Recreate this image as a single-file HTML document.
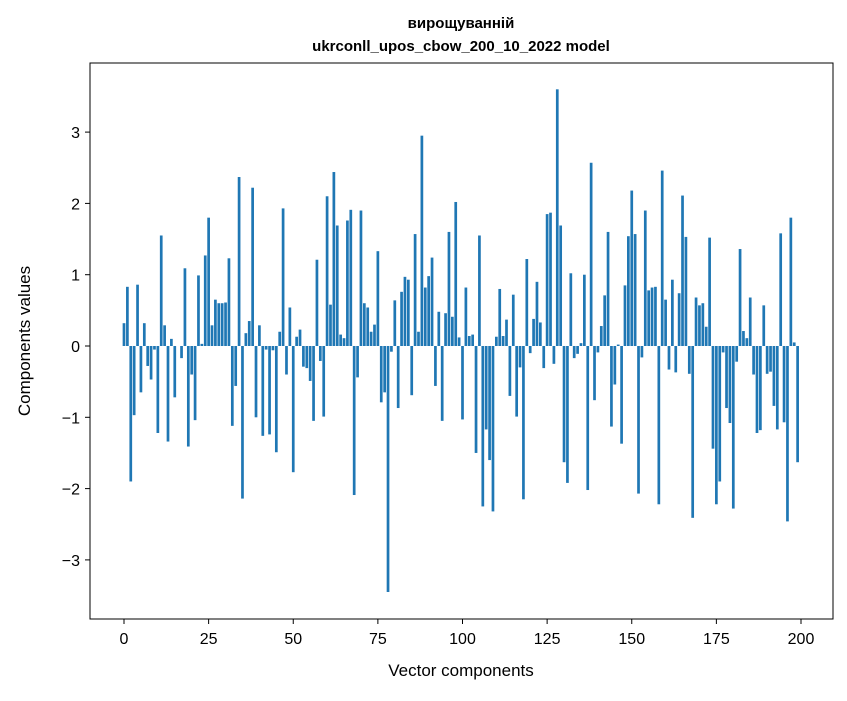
<!DOCTYPE html>
<html><head><meta charset="utf-8"><style>
body{margin:0;background:#fff;font-family:"Liberation Sans","DejaVu Sans",sans-serif;}
svg text{font-family:"Liberation Sans","DejaVu Sans",sans-serif;fill:#000;}
</style></head><body>
<svg id="chart" width="847" height="696">
<rect width="847" height="696" fill="#fff"/>
<text x="461" y="28" text-anchor="middle" font-size="15" font-weight="bold">вирощуванній</text>
<text x="461" y="51" text-anchor="middle" font-size="15" font-weight="bold">ukrconll_upos_cbow_200_10_2022 model</text>
<g id="bars"></g>
<rect x="90" y="63" width="743" height="556" fill="none" stroke="#000" stroke-width="1"/>
<g id="xaxis"></g>
<g id="yaxis"></g>
<text x="461" y="676" text-anchor="middle" font-size="17">Vector components</text>
<text transform="translate(30,341) rotate(-90)" text-anchor="middle" font-size="17">Components values</text>
</svg>
<script>
const values=[0.32,0.83,-1.9,-0.97,0.86,-0.65,0.32,-0.28,-0.47,-0.05,-1.22,1.55,0.29,-1.34,0.1,-0.72,0.0,-0.17,1.09,-1.41,
-0.4,-1.04,0.99,0.03,1.27,1.8,0.29,0.65,0.6,0.6,0.61,1.23,-1.12,-0.56,2.37,-2.14,0.18,0.35,2.22,-1.0,
0.29,-1.26,-0.05,-1.24,-0.06,-1.49,0.2,1.93,-0.4,0.54,-1.77,0.13,0.23,-0.29,-0.31,-0.49,-1.05,1.21,-0.21,-0.99,
2.1,0.58,2.44,1.69,0.16,0.11,1.76,1.91,-2.09,-0.44,1.9,0.6,0.54,0.2,0.3,1.33,-0.79,-0.65,-3.45,-0.08,
0.64,-0.87,0.76,0.97,0.93,-0.69,1.57,0.2,2.95,0.82,0.98,1.24,-0.56,0.48,-1.05,0.46,1.6,0.41,2.02,0.12,
-1.03,0.82,0.14,0.16,-1.5,1.55,-2.25,-1.17,-1.6,-2.32,0.13,0.8,0.14,0.37,-0.7,0.72,-0.99,-0.3,-2.15,1.22,
-0.1,0.38,0.9,0.33,-0.31,1.85,1.87,-0.25,3.6,1.69,-1.63,-1.92,1.02,-0.17,-0.11,0.04,1.0,-2.02,2.57,-0.76,
-0.09,0.28,0.71,1.6,-1.13,-0.54,0.02,-1.37,0.85,1.54,2.18,1.57,-2.07,-0.16,1.9,0.78,0.82,0.83,-2.22,2.46,
0.65,-0.33,0.93,-0.37,0.74,2.11,1.53,-0.39,-2.41,0.68,0.57,0.6,0.27,1.52,-1.44,-2.22,-1.9,-0.09,-0.87,-1.08,
-2.28,-0.22,1.36,0.21,0.11,0.68,-0.4,-1.22,-1.18,0.57,-0.39,-0.36,-0.84,-1.17,1.58,-1.07,-2.46,1.8,0.05,-1.63];
const xTicks=[0,25,50,75,100,125,150,175,200];
const yTicks=[-3,-2,-1,0,1,2,3];
const yTickLabels=["\u22123","\u22122","\u22121","0","1","2","3"];
const NS="http://www.w3.org/2000/svg";
const x=v=>124+v*(677/200);
const y=v=>346-v*71.3;
const bars=document.getElementById('bars');
values.forEach((v,i)=>{
  const r=document.createElementNS(NS,'rect');
  
  
  r.setAttribute('x',x(i-0.4));
  r.setAttribute('width',0.8*677/200);
  r.setAttribute('y',Math.min(y(v),y(0)));
  r.setAttribute('height',Math.abs(y(v)-y(0)));
  r.setAttribute('fill','#1f77b4');
  bars.appendChild(r);
});
const xa=document.getElementById('xaxis');
xTicks.forEach(t=>{
  const l=document.createElementNS(NS,'line');
  
  
  l.setAttribute('x1',x(t));l.setAttribute('x2',x(t));l.setAttribute('y1',619);l.setAttribute('y2',624);
  l.setAttribute('stroke','#000');
  xa.appendChild(l);
  const tx=document.createElementNS(NS,'text');
  
  
  tx.setAttribute('x',x(t));tx.setAttribute('y',644);tx.setAttribute('text-anchor','middle');tx.setAttribute('font-size','16');
  tx.textContent=t;
  xa.appendChild(tx);
});
const ya=document.getElementById('yaxis');
yTicks.forEach((t,i)=>{
  const l=document.createElementNS(NS,'line');
  
  
  l.setAttribute('x1',85);l.setAttribute('x2',90);l.setAttribute('y1',y(t));l.setAttribute('y2',y(t));
  l.setAttribute('stroke','#000');
  ya.appendChild(l);
  const tx=document.createElementNS(NS,'text');
  
  
  tx.setAttribute('x',80);tx.setAttribute('y',y(t)+6);tx.setAttribute('text-anchor','end');tx.setAttribute('font-size','16');
  tx.textContent=yTickLabels[i];
  ya.appendChild(tx);
});
</script>
</body></html>
